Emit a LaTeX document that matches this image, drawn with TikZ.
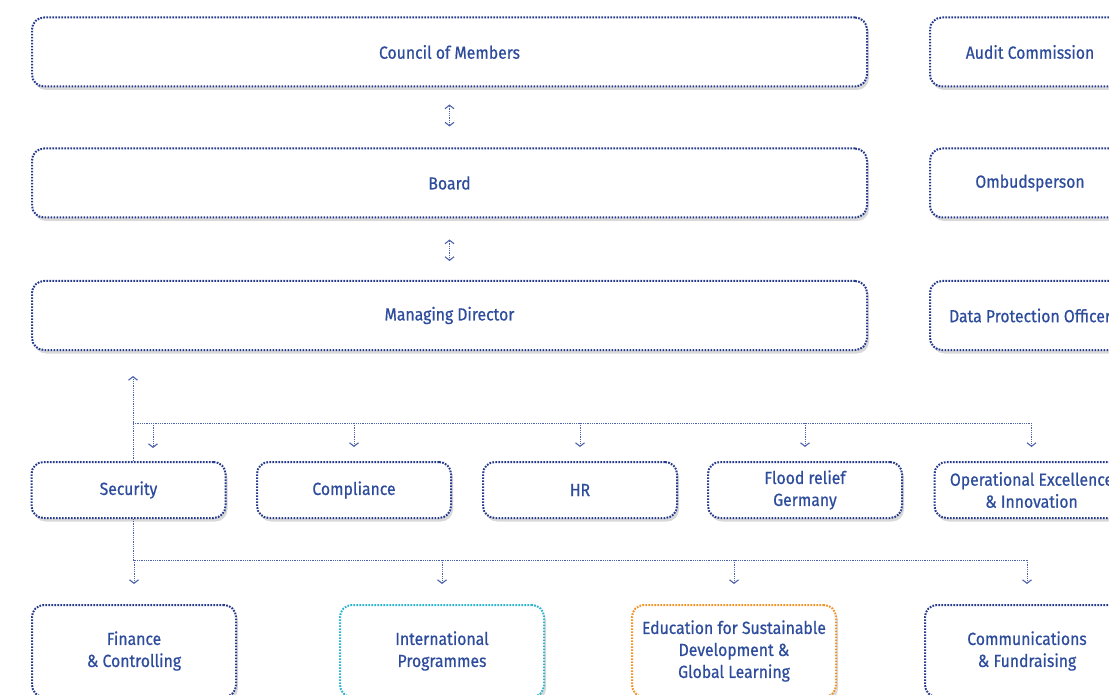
\documentclass[tikz,border=0pt]{standalone}
\usepackage{fontspec}
\setmainfont{Fira Sans}[FakeStretch=0.9, FakeBold=0.6]
\usetikzlibrary{arrows.meta}
\usetikzlibrary{shadows}
\definecolor{navy}{HTML}{263A8C}
\definecolor{ink}{HTML}{2D4C9C}
\definecolor{wire}{HTML}{4F63AC}
\definecolor{teal}{HTML}{2BB5D0}
\definecolor{amber}{HTML}{F39325}

\begin{document}
\begin{tikzpicture}[x=1pt, y=-1pt,
    unit/.style = {draw=navy, fill=white, line width=2pt, dash pattern=on 1.7pt off 1.3pt,
      rounded corners=12pt, text=ink, align=center, inner sep=0pt,
      font=\fontsize{17.5}{22}\selectfont,
      drop shadow={shadow xshift=2pt, shadow yshift=-3.5pt, opacity=0.3}},
    wide/.style = {unit, minimum width=835pt, minimum height=69pt},
    side/.style = {unit, minimum width=200pt, minimum height=69pt},
    staff/.style = {unit, minimum width=194pt, minimum height=56pt},
    dept/.style = {unit, minimum width=204pt, minimum height=92pt},
    link/.style = {draw=wire, line width=0.8pt, dash pattern=on 0.9pt off 0.9pt},
    tip/.style = {link, -{Straight Barb[length=3.5pt, width=9pt, line width=1.1pt]}},
    both/.style = {link, {Straight Barb[length=3.5pt, width=9pt, line width=1.1pt]}-{Straight Barb[length=3.5pt, width=9pt, line width=1.1pt]}}]
  \useasboundingbox (0,0) rectangle (1109,695);
  \clip (0,0) rectangle (1109,695);

  \node[wide] (council) at (449.5,52) {Council of Members};
  \node[wide] (board) at (449.5,183) {Board};
  \node[wide] (md) at (449.5,315.5) {Managing Director};
  \node[side] (audit) at (1030,52) {Audit Commission};
  \node[side] (ombud) at (1030,183) {Ombudsperson};
  \node[side] (dpo) at (1030,315.5) {Data Protection Officer};

  \draw[both, shorten <=17pt, shorten >=21pt] (council) -- (board);
  \draw[both, shorten <=21pt, shorten >=19pt] (board) -- (md);

  \node[staff] (security) at (128.5,490) {Security};
  \node[staff] (compliance) at (354,490) {Compliance};
  \node[staff] (hr) at (580,490) {HR};
  \node[staff] (flood) at (805,490) {Flood relief\\Germany};
  \node[staff] (opex) at (1031.5,490) {Operational Excellence\\\& Innovation};

  \node[dept] (finance) at (134,651) {Finance\\\& Controlling};
  \node[dept, draw=teal] (intl) at (442,651) {International\\Programmes};
  \node[dept, draw=amber] (edu) at (734,651) {Education for Sustainable\\Development \&\\Global Learning};
  \node[dept] (comms) at (1027,651) {Communications\\\& Fundraising};

  \coordinate (hub1) at (133,423);
  \coordinate (hub2) at (133,560);
  \draw[tip] (security.north -| hub1) -- ([yshift=-25pt]md.south -| hub1);
  \draw[link] (hub1) -- (hub1 -| opex);
  \draw[tip] (153,423) -- (153,448);
  \foreach \n in {compliance, hr, flood, opex}
    \draw[tip] (hub1 -| \n) -- ([yshift=14pt]\n.north);

  \draw[link] (security.south -| hub2) -- (hub2) -- (hub2 -| comms);
  \foreach \n in {finance, intl, edu, comms}
    \draw[tip] (hub2 -| \n) -- ([yshift=20pt]\n.north);
\end{tikzpicture}
\end{document}
